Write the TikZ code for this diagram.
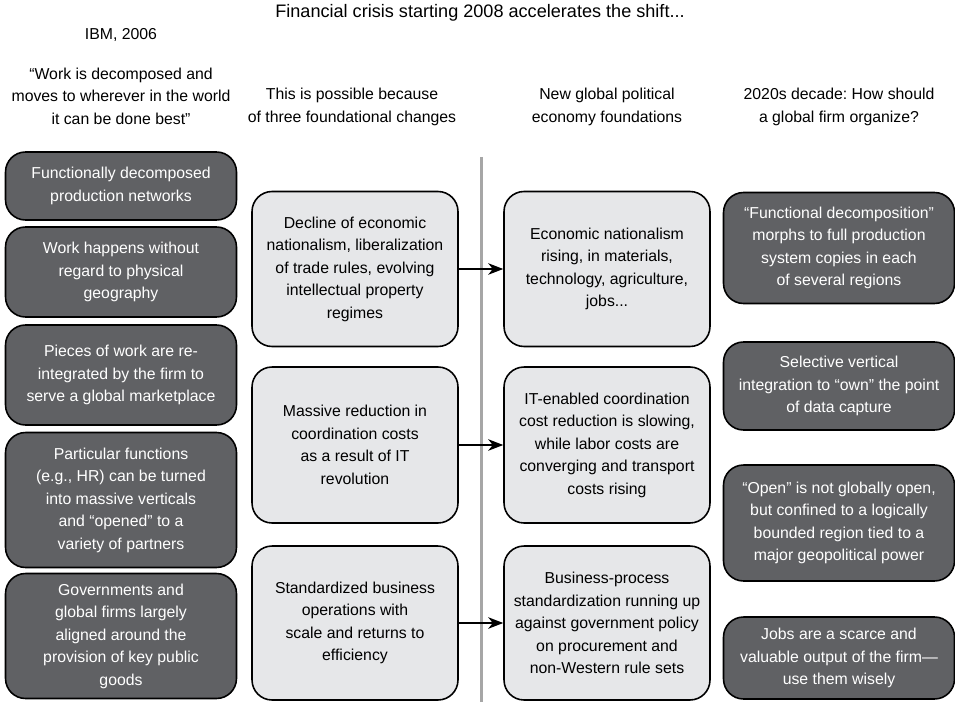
\documentclass[tikz,border=0pt]{standalone}
\usepackage{fontspec}
\setmainfont{Liberation Sans}
\usepackage{tikz}
\usetikzlibrary{positioning}
\usetikzlibrary{arrows.meta}
\frenchspacing

\definecolor{boxdark}{RGB}{96,97,100}
\definecolor{boxlight}{RGB}{230,231,233}

\tikzset{
  darkbox/.style={shape=rectangle, rounded corners=0.4cm, draw=black, line width=0.9pt, fill=boxdark, text=white, align=center, minimum width=4.62cm},
  lightbox/.style={shape=rectangle, rounded corners=0.4cm, draw=black, line width=0.9pt, fill=boxlight, align=center, minimum width=4.12cm},
  heading/.style={align=center},
  shift arrow/.style={-{Stealth[length=3mm, width=2.3mm, inset=0.9mm]}, line width=0.9pt}
}

\begin{document}
\begin{tikzpicture}[x=0.02cm, y=-0.02cm, font=\fontsize{9}{12.8}\selectfont]
        \useasboundingbox (0,0) rectangle (955,702);

        % headings
        \node (title) at (480,13) [heading, font=\fontsize{10.3}{12.8}\selectfont] {Financial crisis starting 2008 accelerates the shift...};
        \node (ibm) at (121,35) [heading] {IBM, 2006};
        \node (h1) at (121,96) [heading] {``Work is decomposed and\\moves to wherever in the world\\it can be done best''};
        \node (h2) at (352,107) [heading] {This is possible because\\of three foundational changes};
        \node (h3) at (607,107) [heading] {New global political\\economy foundations};
        \node (h4) at (839,107) [heading] {2020s decade: How should\\a global firm organize?};

        % IBM 2006 model
        \node (w1) at (121,186) [darkbox, minimum height=1.36cm] {Functionally decomposed\\production networks};
        \node (w2) at (121,272) [darkbox, minimum height=1.8cm] {Work happens without\\regard to physical\\geography};
        \node (w3) at (121,375) [darkbox, minimum height=2.0cm] {Pieces of work are re-\\integrated by the firm to\\serve a global marketplace};
        \node (w4) at (121,500) [darkbox, minimum height=2.7cm] {Particular functions\\(e.g., HR) can be turned\\into massive verticals\\and ``opened'' to a\\variety of partners};
        \node (w5) at (121,636) [darkbox, minimum height=2.5cm] {Governments and\\global firms largely\\aligned around the\\provision of key public\\goods};

        % foundational changes
        \node (c1) at (355,269) [lightbox, minimum height=3.1cm] {Decline of economic\\nationalism, liberalization\\of trade rules, evolving\\intellectual property\\regimes};
        \node (c2) at (355,445) [lightbox, minimum height=3.12cm] {Massive reduction in\\coordination costs\\as a result of IT\\revolution};
        \node (c3) at (355,623) [lightbox, minimum height=3.08cm] {Standardized business\\operations with\\scale and returns to\\efficiency};

        % divider
        \coordinate (top) at (481,157);
        \coordinate (bottom) at (481,702);
        \draw[line width=1.7pt, gray!70] (top) -- (bottom);

        % new foundations
        \node (f1) at (607,269) [lightbox, minimum height=3.1cm] {Economic nationalism\\rising, in materials,\\technology, agriculture,\\jobs...};
        \node (f2) at (607,445) [lightbox, minimum height=3.12cm] {IT-enabled coordination\\cost reduction is slowing,\\while labor costs are\\converging and transport\\costs rising};
        \node (f3) at (607,623) [lightbox, minimum height=3.08cm] {Business-process\\standardization running up\\against government policy\\on procurement and\\non-Western rule sets};

        % 2020s organization
        \node (o1) at (839,248) [darkbox, minimum height=2.22cm] {``Functional decomposition''\\morphs to full production\\system copies in each\\of several regions};
        \node (o2) at (839,386) [darkbox, minimum height=1.76cm] {Selective vertical\\integration to ``own'' the point\\of data capture};
        \node (o3) at (839,523) [darkbox, minimum height=2.32cm] {``Open'' is not globally open,\\but confined to a logically\\bounded region tied to a\\major geopolitical power};
        \node (o4) at (839,658) [darkbox, minimum height=1.64cm] {Jobs are a scarce and\\valuable output of the firm---\\use them wisely};

        % connections
        \draw[shift arrow] (c1) -- (f1);
        \draw[shift arrow] (c2) -- (f2);
        \draw[shift arrow] (c3) -- (f3);
    \end{tikzpicture}
\end{document}
